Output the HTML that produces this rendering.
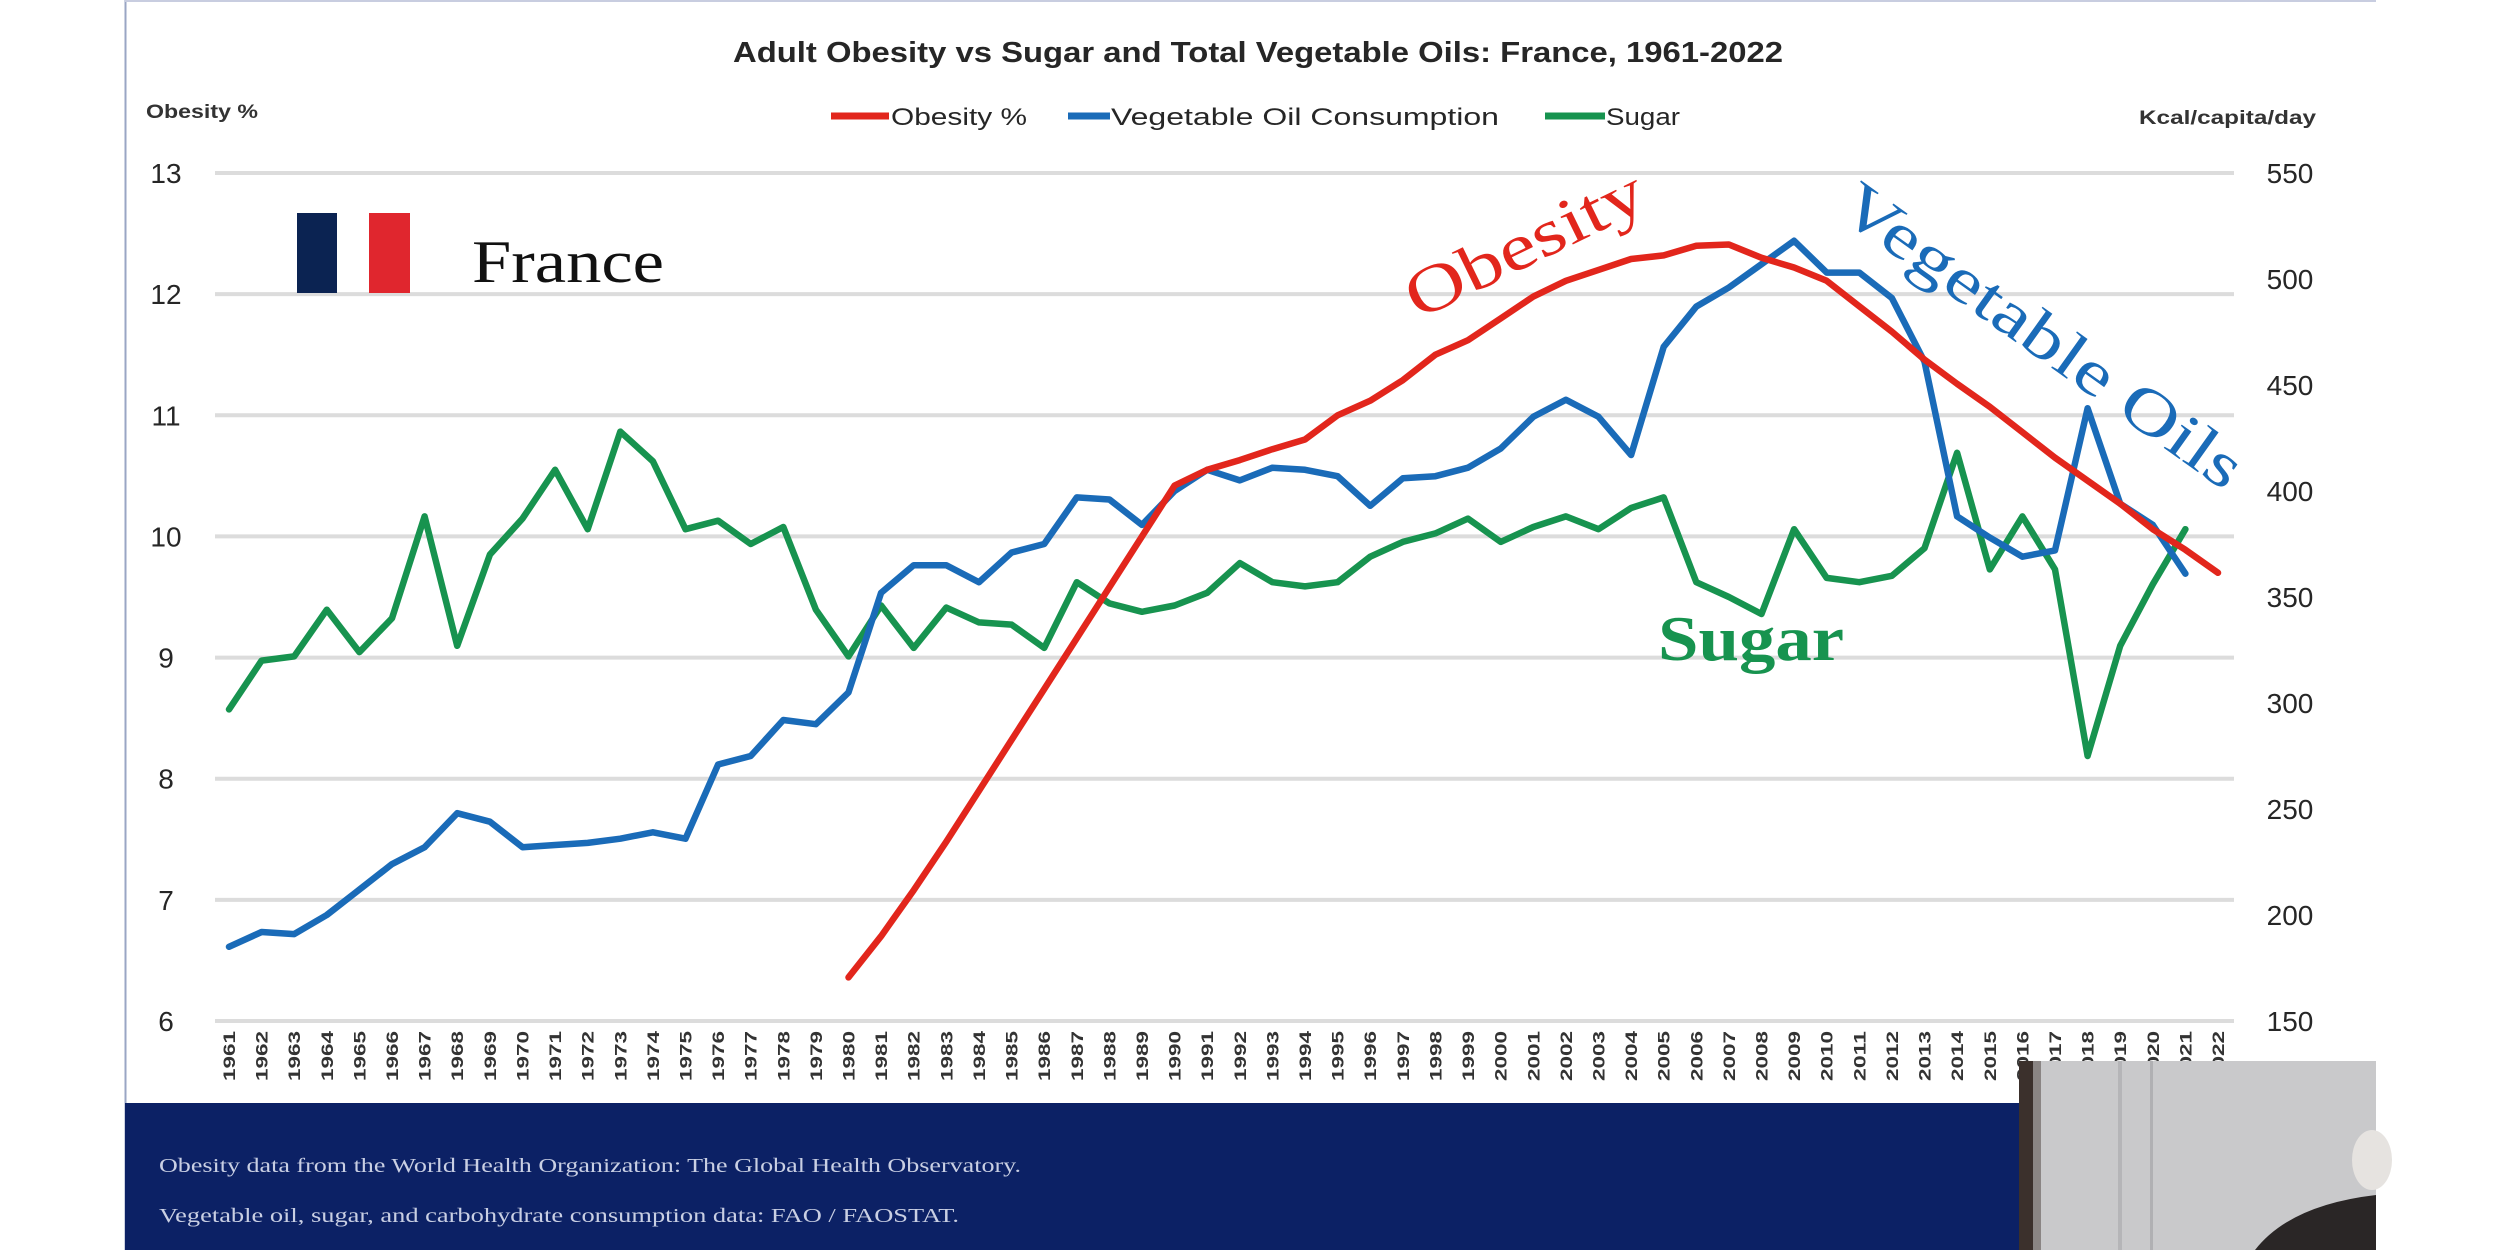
<!DOCTYPE html>
<html><head><meta charset="utf-8"><title>Adult Obesity vs Sugar and Total Vegetable Oils: France</title>
<style>
html,body{margin:0;padding:0;background:#fff;}
body{width:2500px;height:1250px;overflow:hidden;position:relative;font-family:"Liberation Sans",sans-serif;}
svg{position:absolute;left:0;top:0;}
</style></head>
<body>
<svg id="chart" width="2500" height="1250" viewBox="0 0 2500 1250" xmlns="http://www.w3.org/2000/svg">
  <rect x="125" y="0" width="2251" height="1250" fill="#ffffff"/>
  <line x1="125.5" y1="0" x2="125.5" y2="1250" stroke="#9aa6c4" stroke-width="2"/>
  <line x1="125" y1="1" x2="2376" y2="1" stroke="#c8cde0" stroke-width="2"/>
  <g id="grid"></g>
  <g id="leftTicks"></g>
  <g id="rightTicks"></g>
  <g id="xTicks"></g>
  <text x="1258" y="62" text-anchor="middle" font-size="29" font-weight="bold" fill="#262626" textLength="1050" lengthAdjust="spacingAndGlyphs">Adult Obesity vs Sugar and Total Vegetable Oils: France, 1961-2022</text>
  <text x="146" y="118" font-size="19" font-weight="bold" fill="#333" textLength="112" lengthAdjust="spacingAndGlyphs">Obesity %</text>
  <text x="2139" y="124" font-size="19" font-weight="bold" fill="#333" textLength="177" lengthAdjust="spacingAndGlyphs">Kcal/capita/day</text>
  <g>
    <g>
      <line x1="831" y1="116" x2="889" y2="116" stroke="#e2261c" stroke-width="7"/>
      <text x="891" y="125" font-size="24" fill="#262626" textLength="136" lengthAdjust="spacingAndGlyphs">Obesity %</text>
    </g>
    <g>
      <line x1="1068" y1="116" x2="1110" y2="116" stroke="#1a6bb8" stroke-width="7"/>
      <text x="1111" y="125" font-size="24" fill="#262626" textLength="388" lengthAdjust="spacingAndGlyphs">Vegetable Oil Consumption</text>
    </g>
    <g>
      <line x1="1545" y1="116" x2="1605" y2="116" stroke="#17934f" stroke-width="7"/>
      <text x="1606" y="125" font-size="24" fill="#262626" textLength="74" lengthAdjust="spacingAndGlyphs">Sugar</text>
    </g>
  </g>
  <g>
    <rect x="297" y="213" width="40" height="80" fill="#0b2352"/>
    <rect x="369" y="213" width="41" height="80" fill="#e0262e"/>
  </g>
  <text x="472" y="282" font-family="'Liberation Serif',serif" font-size="60" fill="#111" textLength="192" lengthAdjust="spacingAndGlyphs">France</text>
  <g id="series"></g>
  <text x="0" y="0" transform="translate(1418,320) rotate(-26)" font-family="'Liberation Serif',serif" font-size="66" fill="#e2261c" textLength="258" lengthAdjust="spacingAndGlyphs">Obesity</text>
  <text x="0" y="0" transform="translate(1836,214) rotate(35.5)" font-family="'Liberation Serif',serif" font-size="64" fill="#1a6bb8" textLength="478" lengthAdjust="spacingAndGlyphs">Vegetable Oils</text>
  <text x="1658" y="660" font-family="'Liberation Serif',serif" font-size="64" font-weight="bold" fill="#17934f" textLength="186" lengthAdjust="spacingAndGlyphs">Sugar</text>
  <rect x="125" y="1103" width="2251" height="147" fill="#0c2165"/>
  <text x="159" y="1172" font-family="'Liberation Serif',serif" font-size="20" fill="#c9cfe3" textLength="862" lengthAdjust="spacingAndGlyphs">Obesity data from the World Health Organization: The Global Health Observatory.</text>
  <text x="159" y="1222" font-family="'Liberation Serif',serif" font-size="20" fill="#c9cfe3" textLength="800" lengthAdjust="spacingAndGlyphs">Vegetable oil, sugar, and carbohydrate consumption data: FAO / FAOSTAT.</text>
  <g>
    <rect x="2019" y="1061" width="357" height="189" fill="#c9c9cb"/>
    <rect x="2019" y="1061" width="14" height="189" fill="#3b302c"/>
    <rect x="2033" y="1061" width="8" height="189" fill="#8a8584"/>
    <rect x="2118" y="1061" width="4" height="189" fill="#b5b5b8"/>
    <rect x="2150" y="1061" width="3" height="189" fill="#b0b0b3"/>
    <ellipse cx="2372" cy="1160" rx="20" ry="30" fill="#e6e3e0"/>
    <path d="M2255 1250 Q2290 1205 2376 1195 L2376 1250 Z" fill="#2a2626"/>
  </g>
</svg>
<script>
const years = [1961,1962,1963,1964,1965,1966,1967,1968,1969,1970,1971,1972,1973,1974,1975,1976,1977,1978,1979,1980,1981,1982,1983,1984,1985,1986,1987,1988,1989,1990,1991,1992,1993,1994,1995,1996,1997,1998,1999,2000,2001,2002,2003,2004,2005,2006,2007,2008,2009,2010,2011,2012,2013,2014,2015,2016,2017,2018,2019,2020,2021,2022];
const obesity = [null,null,null,null,null,null,null,null,null,null,null,null,null,null,null,null,null,null,null,
 6.36,6.70,7.08,7.48,7.90,8.32,8.74,9.16,9.58,10.0,
 10.42,10.55,10.63,10.72,10.8,11.0,11.12,11.29,11.5,11.62,
 11.8,11.98,12.11,12.2,12.29,12.32,12.4,12.41,12.3,12.22,
 12.11,11.9,11.69,11.46,11.26,11.07,10.86,10.65,10.46,10.27,
 10.06,9.89,9.7];
const vegOil = [185,192,191,200,212,224,232,248,244,232,
 233,234,236,239,236,271,275,292,290,305,
 352,365,365,357,371,375,397,396,384,400,
 410,405,411,410,407,393,406,407,411,420,
 435,443,435,417,468,487,496,507,518,503,
 503,491,461,388,378,369,372,439,394,384,361,null];
const sugar = [297,320,322,344,324,340,388,327,370,387,
 410,382,428,414,382,386,375,383,344,322,
 346,326,345,338,337,326,357,347,343,346,
 352,366,357,355,357,369,376,380,387,376,
 383,388,382,392,397,357,350,342,382,359,
 357,360,373,418,363,388,363,275,327,356,382,null];
const leftTicks = [6,7,8,9,10,11,12,13];
const rightTicks = [150,200,250,300,350,400,450,500,550];

const NS = "http://www.w3.org/2000/svg";
const X0 = 229, X1 = 2218, YTOP = 173, YBOT = 1021, GX0 = 215, GX1 = 2234;
function xPos(i){ return X0 + i * (X1 - X0) / (years.length - 1); }
function yLeft(v){ return YBOT - (v - 6) * (YBOT - YTOP) / 7; }
function yRight(v){ return YBOT - (v - 150) * (YBOT - YTOP) / 400; }
function mk(tag, attrs, parent){
  const e = document.createElementNS(NS, tag);
  for (const k in attrs) e.setAttribute(k, attrs[k]);
  parent.appendChild(e);
  return e;
}
const grid = document.getElementById('grid');
const lt = document.getElementById('leftTicks');
const rt = document.getElementById('rightTicks');
const xt = document.getElementById('xTicks');
const series = document.getElementById('series');

leftTicks.forEach(v => {
  const y = yLeft(v);
  const g = mk('line', {x1:GX0, x2:GX1, y1:y, y2:y, stroke:'#dcdcdc', 'stroke-width':4}, grid);
  
  
  const t = mk('text', {x:166, y:y+10, 'text-anchor':'middle', 'font-size':28, fill:'#262626'}, lt);
  
  
  t.textContent = v;
});
rightTicks.forEach(v => {
  const y = yRight(v);
  const t = mk('text', {x:2290, y:y+10, 'text-anchor':'middle', 'font-size':28, fill:'#262626'}, rt);
  
  
  t.textContent = v;
});
years.forEach((yr, i) => {
  const x = xPos(i);
  const t = mk('text', {x:0, y:0, transform:'translate(' + (x+6) + ',1031) rotate(-90)', 'text-anchor':'end', 'font-size':17, 'font-weight':'bold', fill:'#333', textLength:50, lengthAdjust:'spacingAndGlyphs'}, xt);
  
  
  t.textContent = yr;
});
function drawLine(vals, yf, color, name){
  let d = '';
  let started = false;
  vals.forEach((v, i) => {
    if (v === null) { started = false; return; }
    d += (started ? 'L' : 'M') + xPos(i).toFixed(1) + ' ' + yf(v).toFixed(1) + ' ';
    started = true;
  });
  const p = mk('path', {d:d, fill:'none', stroke:color, 'stroke-width':6.5, 'stroke-linejoin':'round', 'stroke-linecap':'round'}, series);
  
  
}
drawLine(sugar, yRight, '#17934f', 'sugar-line');
drawLine(vegOil, yRight, '#1a6bb8', 'vegetable-oil-line');
drawLine(obesity, yLeft, '#e2261c', 'obesity-line');
</script>
</body></html>
